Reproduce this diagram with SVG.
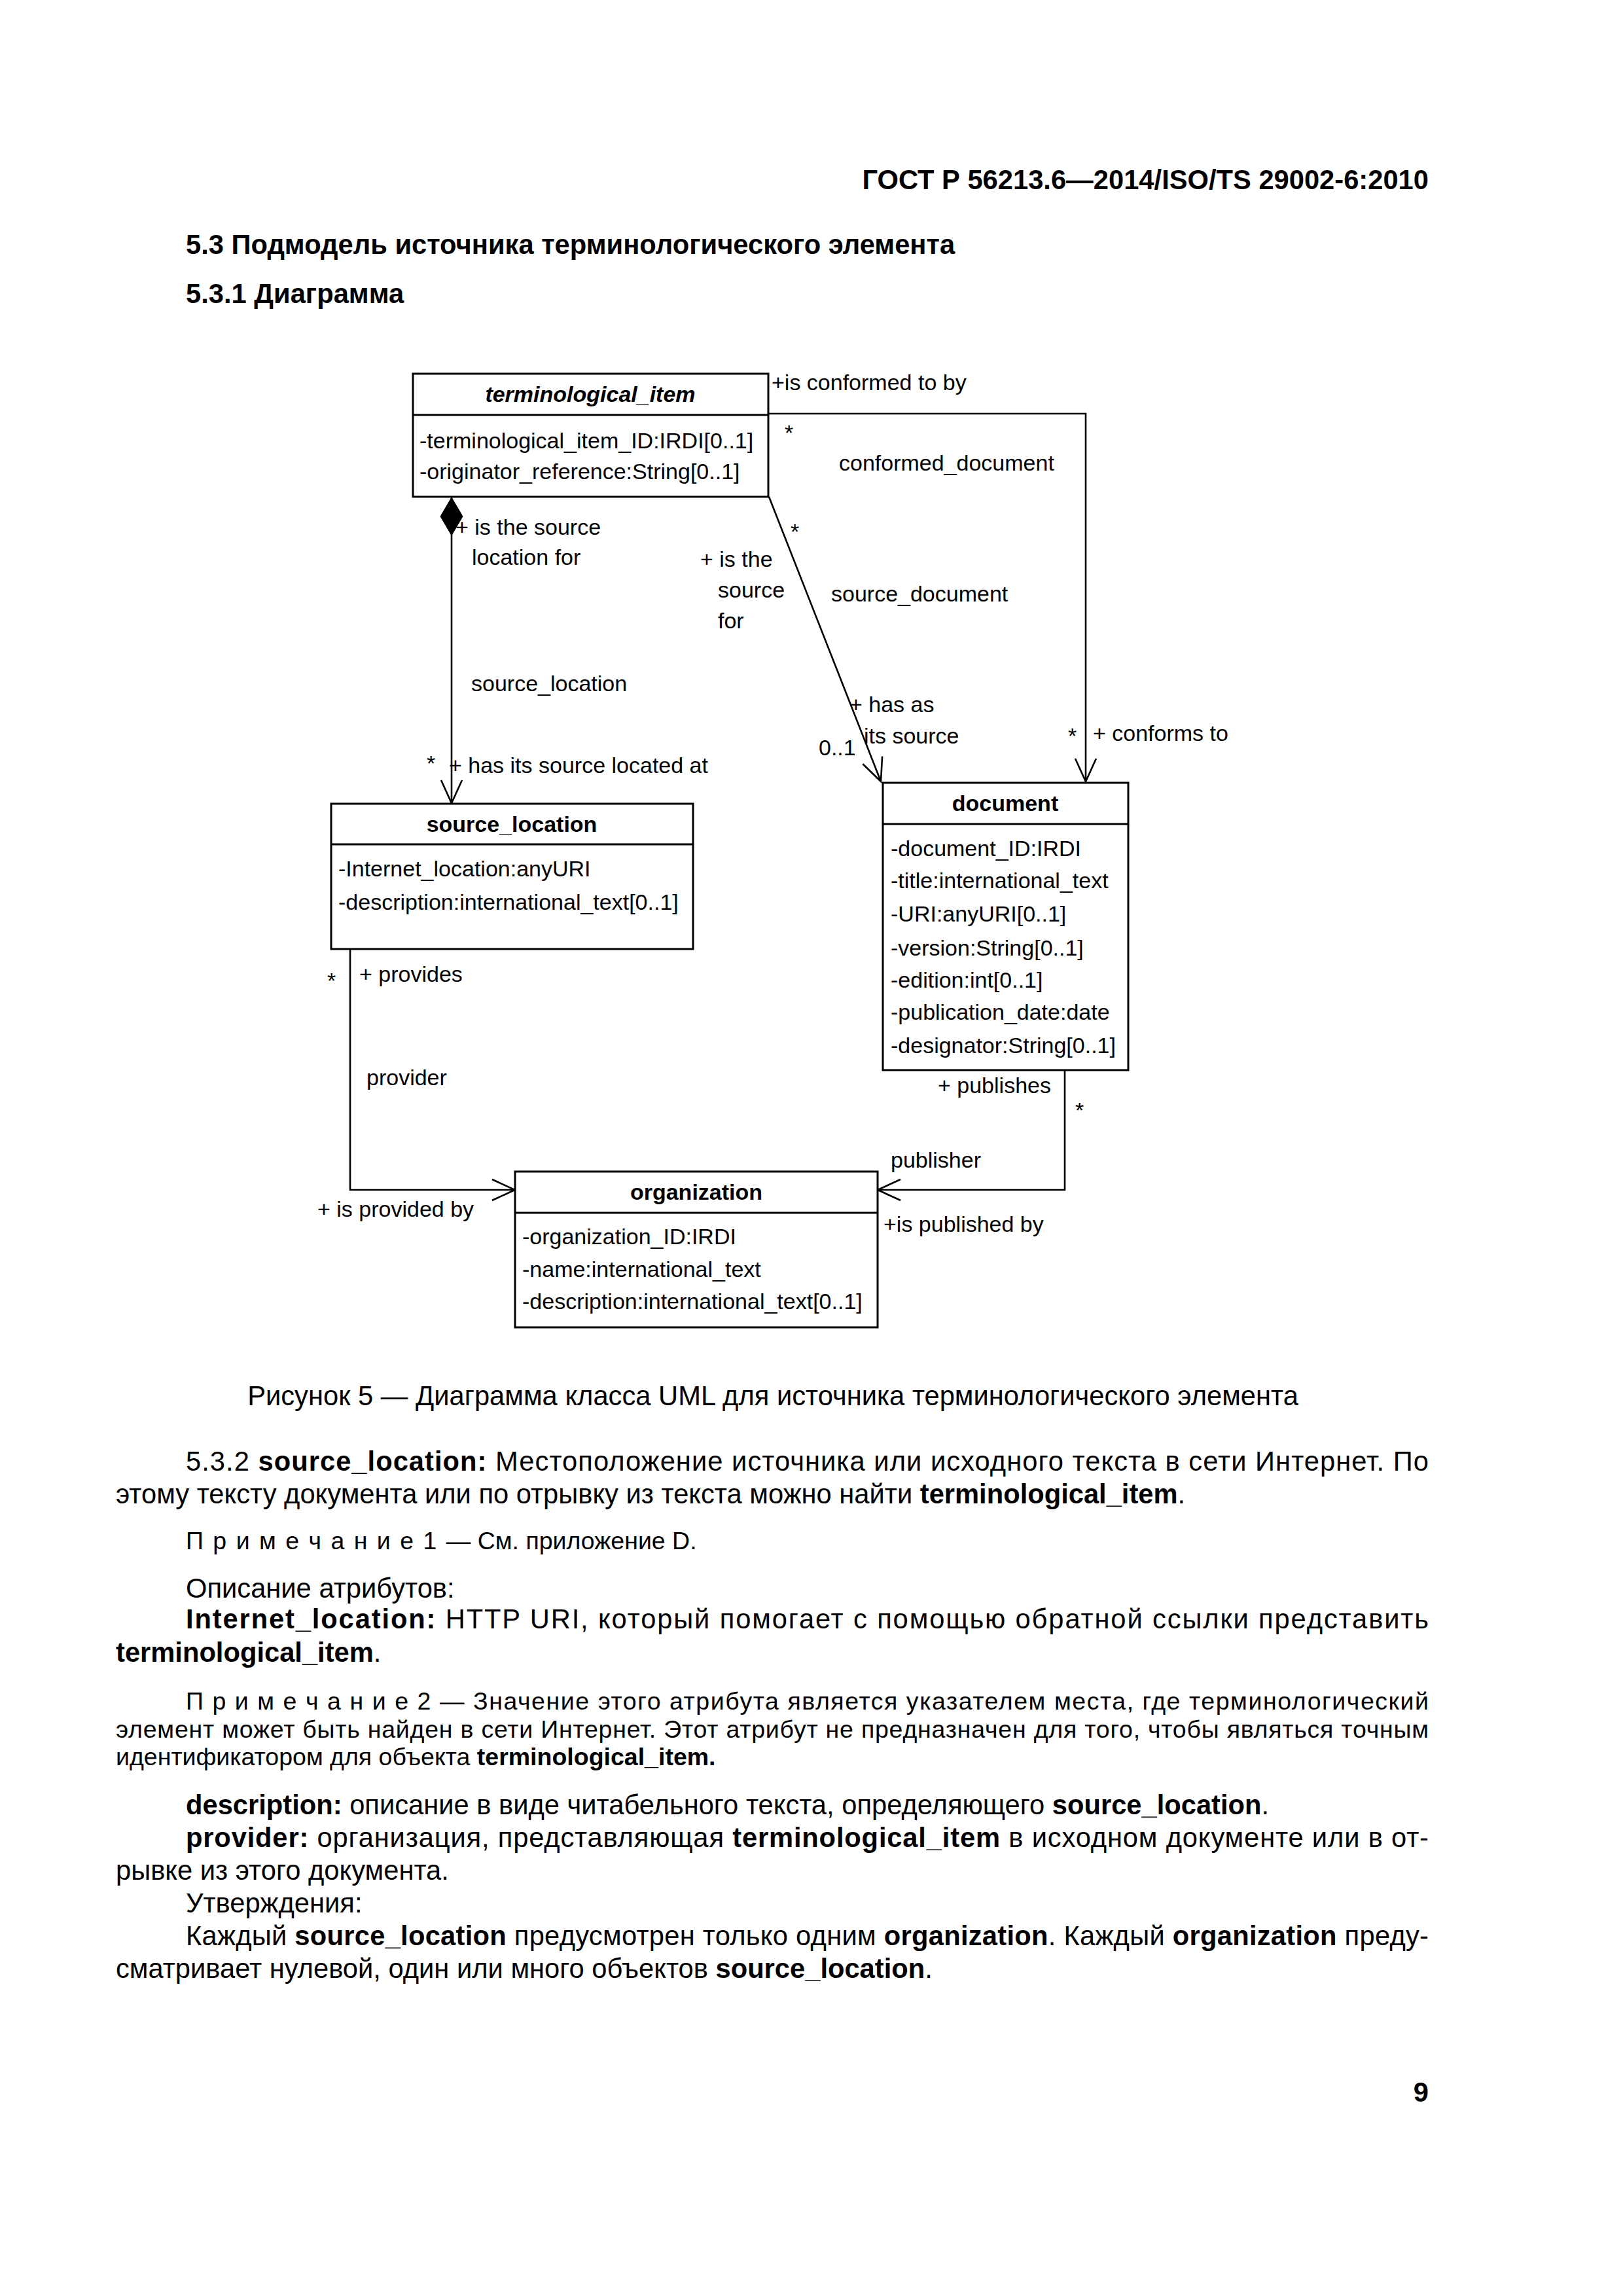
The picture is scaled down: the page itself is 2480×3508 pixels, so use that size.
<svg xmlns="http://www.w3.org/2000/svg" width="2480" height="3508" viewBox="0 0 2480 3508">
<style>
  .box { fill: #ffffff; stroke: #000000; stroke-width: 3; }
  .div { stroke: #000000; stroke-width: 3; }
  .conn { fill: none; stroke: #000000; stroke-width: 2.6; }
  .lbl { font-family: "Liberation Sans", Arial, sans-serif; font-size: 34px; fill: #000000; }
  .ttl { font-family: "Liberation Sans", Arial, sans-serif; font-size: 34px; font-weight: bold; fill: #000000; }
  .body { font-family: "Liberation Sans", Arial, sans-serif; font-size: 41.7px; fill: #000000; }
  .note { font-family: "Liberation Sans", Arial, sans-serif; font-size: 37.5px; fill: #000000; }
  .b { font-weight: bold; }
  .sp { word-spacing: 4px; }
</style>
<defs>
  <marker id="open" markerUnits="userSpaceOnUse" viewBox="-40 -20 45 40" refX="0" refY="0" markerWidth="45" markerHeight="40" orient="auto">
    <path d="M -35 -16 L 0 0 L -35 16" fill="none" stroke="#000000" stroke-width="2.6"/>
  </marker>
  <marker id="diamond" markerUnits="userSpaceOnUse" viewBox="-2 -20 64 40" refX="0" refY="0" markerWidth="64" markerHeight="40" orient="auto">
    <path d="M 0 0 L 29 -17 L 58 0 L 29 17 Z" fill="#000000" stroke="#000000" stroke-width="1"/>
  </marker>
</defs>
<rect width="2480" height="3508" fill="#ffffff"/>

<g id="page-header">
  <text class="body b" x="2183" y="289" text-anchor="end">ГОСТ Р 56213.6—2014/ISO/TS 29002-6:2010</text>
  <text class="body b" x="284" y="388">5.3 Подмодель источника терминологического элемента</text>
  <text class="body b" x="284" y="463">5.3.1 Диаграмма</text>
</g>

<g id="connectors">
  <g id="conn-source_location">
    <path class="conn" d="M 690 760 L 690 1227" marker-start="url(#diamond)" marker-end="url(#open)"/>
    <text class="lbl" x="696" y="817">+ is the source</text>
    <text class="lbl" x="721" y="863">location for</text>
    <text class="lbl" x="720" y="1056">source_location</text>
    <text class="lbl" x="652" y="1178">*</text>
    <text class="lbl" x="686" y="1181">+ has its source located at</text>
  </g>
  <g id="conn-source_document">
    <path class="conn" d="M 1175 759 L 1346 1194" marker-end="url(#open)"/>
    <text class="lbl" x="1070" y="866">+ is the</text>
    <text class="lbl" x="1097" y="913">source</text>
    <text class="lbl" x="1097" y="960">for</text>
    <text class="lbl" x="1208" y="824">*</text>
    <text class="lbl" x="1270" y="919">source_document</text>
    <text class="lbl" x="1298" y="1088">+ has as</text>
    <text class="lbl" x="1320" y="1136">its source</text>
    <text class="lbl" x="1251" y="1154">0..1</text>
  </g>
  <g id="conn-conformed_document">
    <path class="conn" d="M 1175 632 L 1659 632 L 1659 1194" marker-end="url(#open)"/>
    <text class="lbl" x="1179" y="596">+is conformed to by</text>
    <text class="lbl" x="1199" y="673">*</text>
    <text class="lbl" x="1282" y="719">conformed_document</text>
    <text class="lbl" x="1632" y="1136">*</text>
    <text class="lbl" x="1670" y="1132">+ conforms to</text>
  </g>
  <g id="conn-provider">
    <path class="conn" d="M 535 1450 L 535 1818 L 787 1818" marker-end="url(#open)"/>
    <text class="lbl" x="500" y="1510">*</text>
    <text class="lbl" x="549" y="1500">+ provides</text>
    <text class="lbl" x="560" y="1658">provider</text>
    <text class="lbl" x="485" y="1859">+ is provided by</text>
  </g>
  <g id="conn-publisher">
    <path class="conn" d="M 1627 1635 L 1627 1818 L 1341 1818" marker-end="url(#open)"/>
    <text class="lbl" x="1433" y="1670">+ publishes</text>
    <text class="lbl" x="1643" y="1708">*</text>
    <text class="lbl" x="1361" y="1784">publisher</text>
    <text class="lbl" x="1350" y="1882">+is published by</text>
  </g>
</g>

<g id="node-terminological_item">
  <rect class="box" x="631" y="571" width="543" height="188"/>
  <line class="div" x1="631" y1="634" x2="1174" y2="634"/>
  <text class="ttl" x="902" y="614" text-anchor="middle" font-style="italic">terminological_item</text>
  <text class="lbl" x="641" y="685">-terminological_item_ID:IRDI[0..1]</text>
  <text class="lbl" x="641" y="732">-originator_reference:String[0..1]</text>
</g>

<g id="node-source_location">
  <rect class="box" x="506" y="1228" width="553" height="222"/>
  <line class="div" x1="506" y1="1290" x2="1059" y2="1290"/>
  <text class="ttl" x="782" y="1271" text-anchor="middle">source_location</text>
  <text class="lbl" x="517" y="1339">-Internet_location:anyURI</text>
  <text class="lbl" x="517" y="1390">-description:international_text[0..1]</text>
</g>

<g id="node-document">
  <rect class="box" x="1349" y="1196" width="375" height="439"/>
  <line class="div" x1="1349" y1="1259" x2="1724" y2="1259"/>
  <text class="ttl" x="1536" y="1239" text-anchor="middle">document</text>
  <text class="lbl" x="1361" y="1308">-document_ID:IRDI</text>
  <text class="lbl" x="1361" y="1357">-title:international_text</text>
  <text class="lbl" x="1361" y="1408">-URI:anyURI[0..1]</text>
  <text class="lbl" x="1361" y="1460">-version:String[0..1]</text>
  <text class="lbl" x="1361" y="1509">-edition:int[0..1]</text>
  <text class="lbl" x="1361" y="1558">-publication_date:date</text>
  <text class="lbl" x="1361" y="1609">-designator:String[0..1]</text>
</g>

<g id="node-organization">
  <rect class="box" x="787" y="1790" width="554" height="238"/>
  <line class="div" x1="787" y1="1853" x2="1341" y2="1853"/>
  <text class="ttl" x="1064" y="1833" text-anchor="middle">organization</text>
  <text class="lbl" x="798" y="1901">-organization_ID:IRDI</text>
  <text class="lbl" x="798" y="1951">-name:international_text</text>
  <text class="lbl" x="798" y="2000">-description:international_text[0..1]</text>
</g>

<g id="page-text">
  <text class="body" x="1181" y="2147" text-anchor="middle">Рисунок 5 — Диаграмма класса UML для источника терминологического элемента</text>
  <text class="body" x="284" y="2247" textLength="1899" lengthAdjust="spacing">5.3.2 <tspan class="b">source_location:</tspan> Местоположение источника или исходного текста в сети Интернет. По</text>
  <text class="body" x="177" y="2297">этому тексту документа или по отрывку из текста можно найти <tspan class="b">terminological_item</tspan>.</text>
  <text class="note" x="284" y="2367"><tspan class="sp">П р и м е ч а н и е 1 </tspan>— См. приложение D.</text>
  <text class="body" x="284" y="2441">Описание атрибутов:</text>
  <text class="body" x="284" y="2488" textLength="1899" lengthAdjust="spacing"><tspan class="b">Internet_location:</tspan> HTTP URI, который помогает с помощью обратной ссылки представить</text>
  <text class="body" x="177" y="2539"><tspan class="b">terminological_item</tspan>.</text>
  <text class="note" x="284" y="2612" textLength="1899" lengthAdjust="spacing">П р и м е ч а н и е 2 — Значение этого атрибута является указателем места, где терминологический</text>
  <text class="note" x="177" y="2655" textLength="2006" lengthAdjust="spacing">элемент может быть найден в сети Интернет. Этот атрибут не предназначен для того, чтобы являться точным</text>
  <text class="note" x="177" y="2697">идентификатором для объекта <tspan class="b">terminological_item.</tspan></text>
  <text class="body" x="284" y="2772"><tspan class="b">description:</tspan> описание в виде читабельного текста, определяющего <tspan class="b">source_location</tspan>.</text>
  <text class="body" x="284" y="2822" textLength="1899" lengthAdjust="spacing"><tspan class="b">provider:</tspan> организация, представляющая <tspan class="b">terminological_item</tspan> в исходном документе или в от-</text>
  <text class="body" x="177" y="2872">рывке из этого документа.</text>
  <text class="body" x="284" y="2922">Утверждения:</text>
  <text class="body" x="284" y="2972" textLength="1899" lengthAdjust="spacing">Каждый <tspan class="b">source_location</tspan> предусмотрен только одним <tspan class="b">organization</tspan>. Каждый <tspan class="b">organization</tspan> преду-</text>
  <text class="body" x="177" y="3022">сматривает нулевой, один или много объектов <tspan class="b">source_location</tspan>.</text>
  <text class="body b" x="2183" y="3211" text-anchor="end">9</text>
</g>
</svg>
